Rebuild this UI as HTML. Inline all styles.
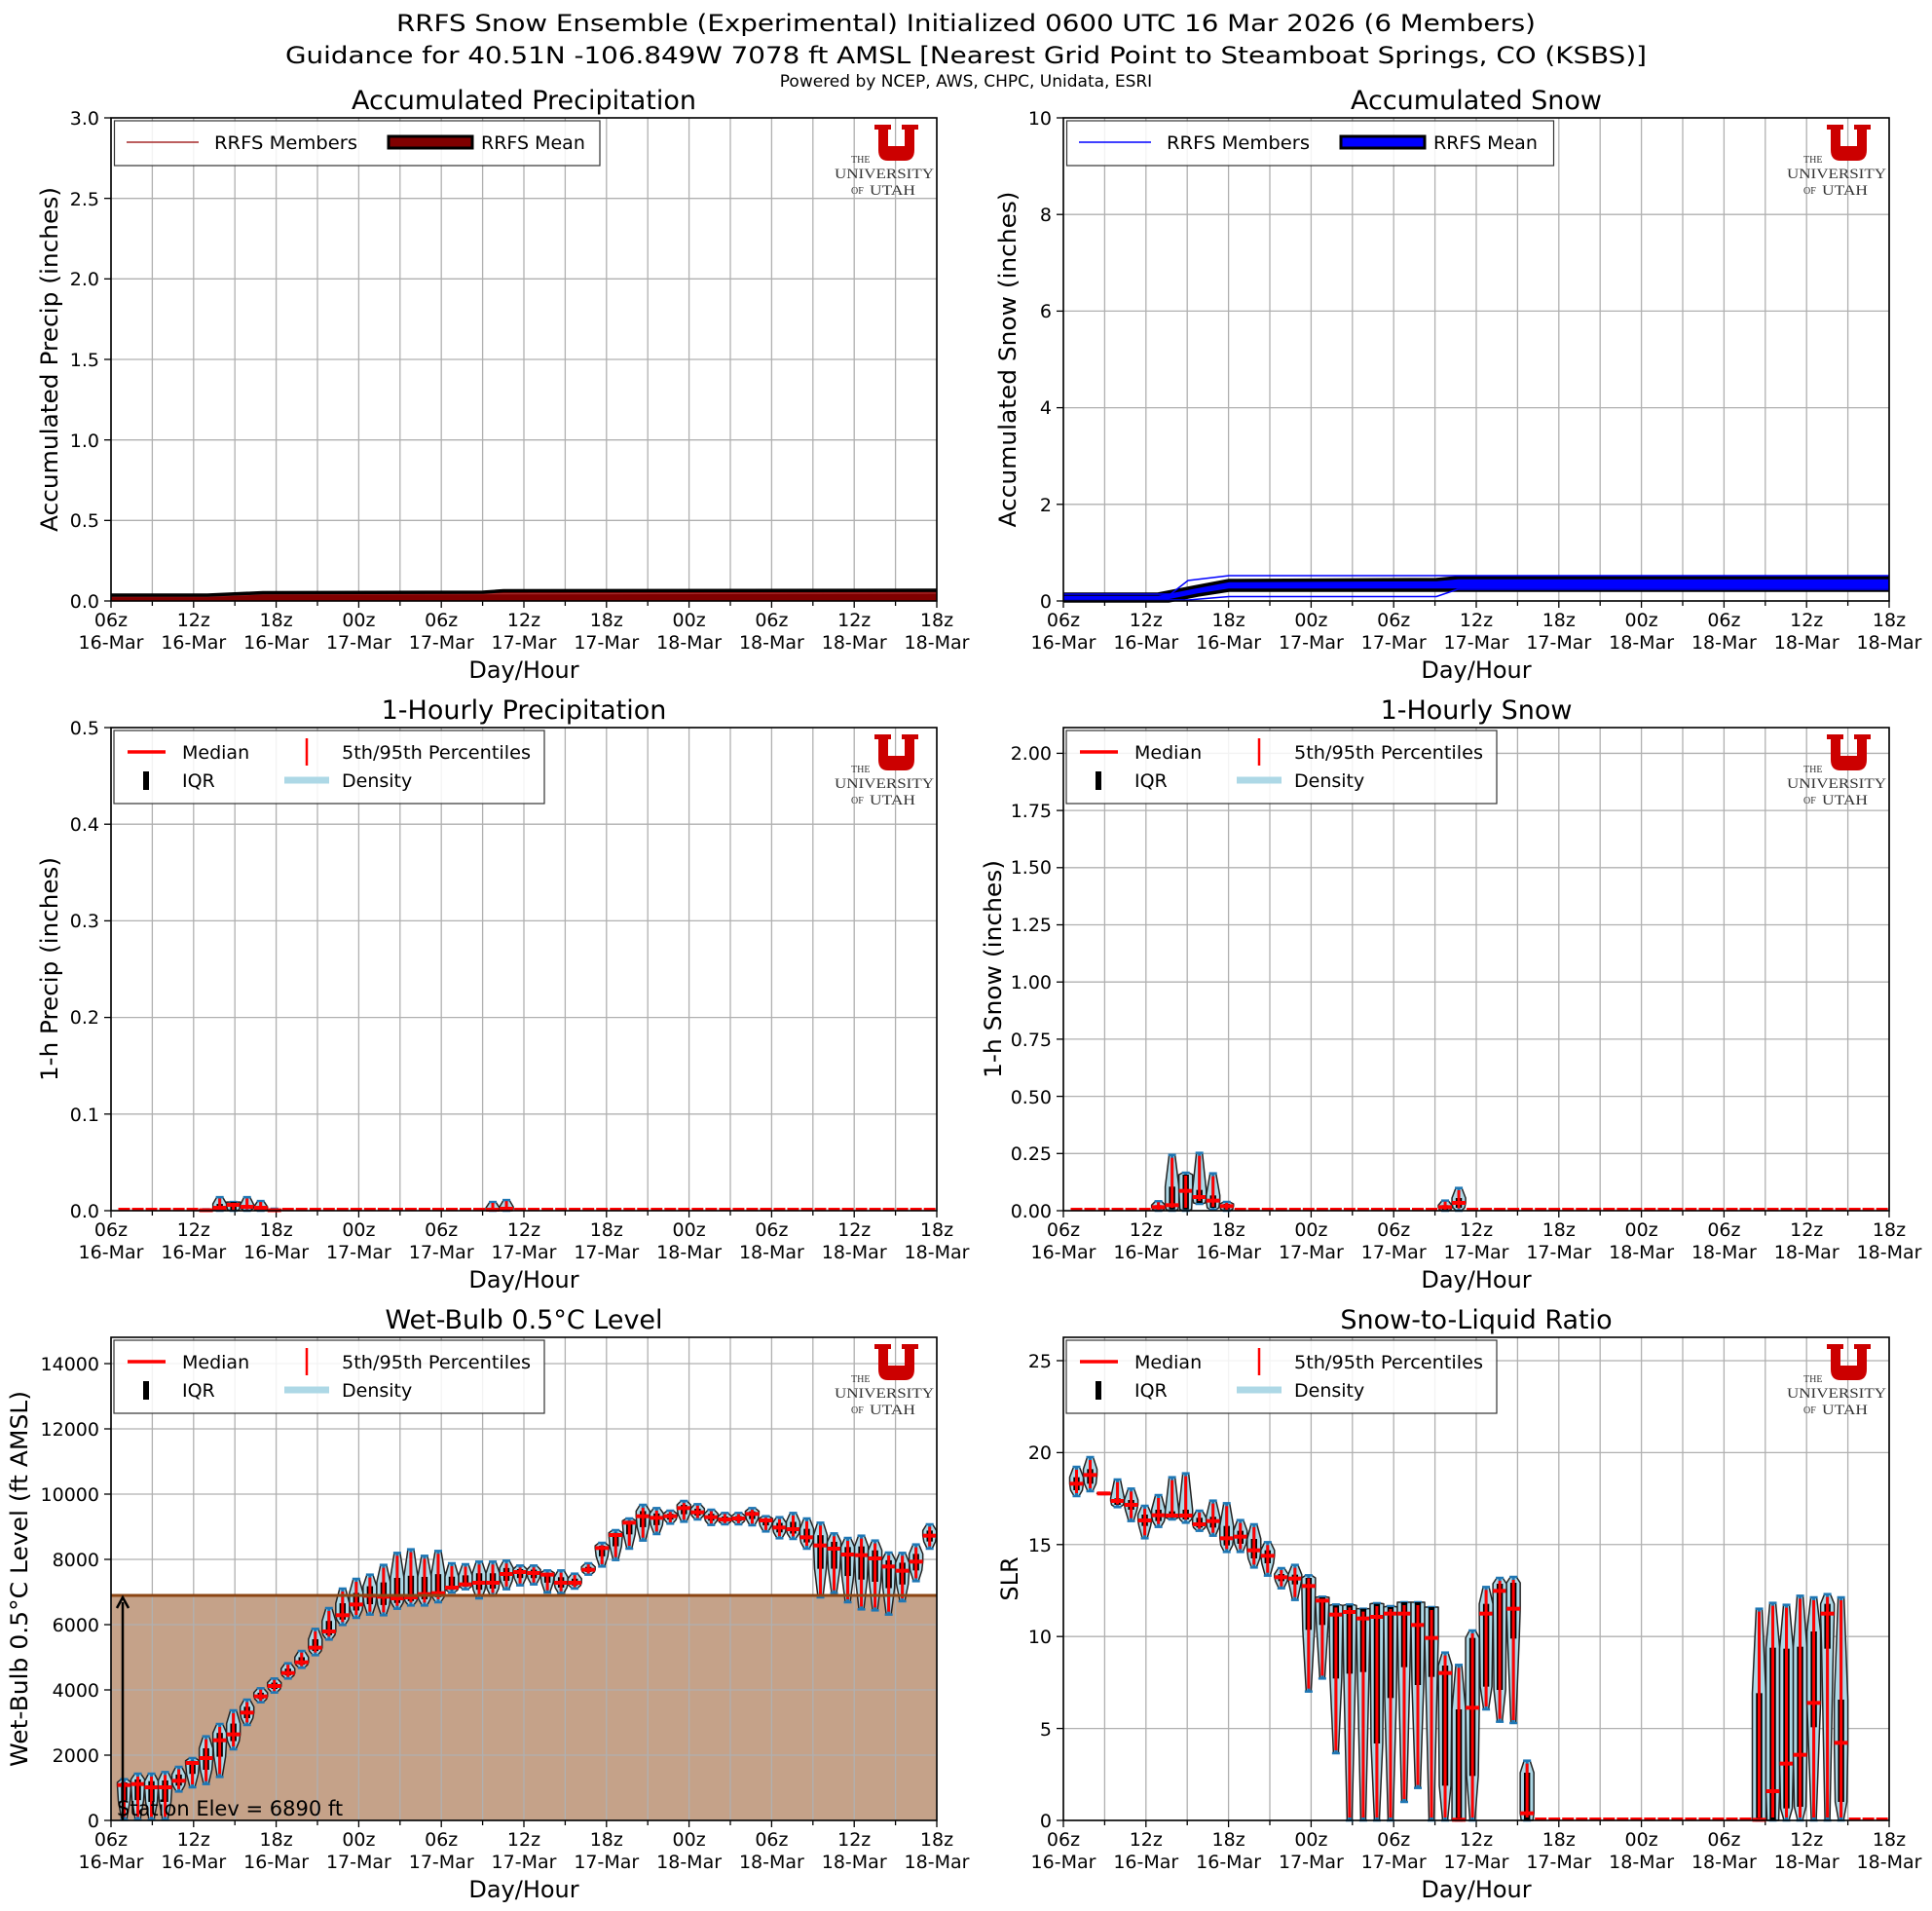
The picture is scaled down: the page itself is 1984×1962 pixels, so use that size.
<!DOCTYPE html>
<html><head><meta charset="utf-8"><style>
html,body{margin:0;padding:0;background:#fff}
svg{display:block}
text{font-family:"DejaVu Sans","Liberation Sans",sans-serif;fill:#000}
.xl text{font-size:19px;text-anchor:middle}
.yl{font-size:19px;text-anchor:end}
.ttl{font-size:24px;text-anchor:middle}
.st{font-size:27px;text-anchor:middle}
.axl{font-size:24px;text-anchor:middle}
.lg{font-size:19px}
.logo{font-family:"Liberation Serif","DejaVu Serif",serif;fill:#333}
</style></head><body>
<svg id="s" width="1984" height="1962" viewBox="0 0 1984 1962" xmlns="http://www.w3.org/2000/svg">
<rect width="1984" height="1962" fill="#fff"/>
<g id="dyn"></g>

<text class="ttl" x="992" y="32" textLength="1170" lengthAdjust="spacingAndGlyphs">RRFS Snow Ensemble (Experimental) Initialized 0600 UTC 16 Mar 2026 (6 Members)</text>
<text class="ttl" x="992" y="65" textLength="1398" lengthAdjust="spacingAndGlyphs">Guidance for 40.51N -106.849W 7078 ft AMSL [Nearest Grid Point to Steamboat Springs, CO (KSBS)]</text>
<text x="992" y="89" style="font-size:17px;text-anchor:middle">Powered by NCEP, AWS, CHPC, Unidata, ESRI</text>

<text class="st" x="538" y="112">Accumulated Precipitation</text>
<text class="st" x="1516" y="112">Accumulated Snow</text>
<text class="st" x="538" y="738">1-Hourly Precipitation</text>
<text class="st" x="1516" y="738">1-Hourly Snow</text>
<text class="st" x="538" y="1364">Wet-Bulb 0.5°C Level</text>
<text class="st" x="1516" y="1364">Snow-to-Liquid Ratio</text>

<g class="xl">
<text x="114" y="643">06z<tspan x="114" dy="23">16-Mar</tspan></text>
<text x="198.8" y="643">12z<tspan x="198.8" dy="23">16-Mar</tspan></text>
<text x="283.6" y="643">18z<tspan x="283.6" dy="23">16-Mar</tspan></text>
<text x="368.4" y="643">00z<tspan x="368.4" dy="23">17-Mar</tspan></text>
<text x="453.2" y="643">06z<tspan x="453.2" dy="23">17-Mar</tspan></text>
<text x="538" y="643">12z<tspan x="538" dy="23">17-Mar</tspan></text>
<text x="622.8" y="643">18z<tspan x="622.8" dy="23">17-Mar</tspan></text>
<text x="707.6" y="643">00z<tspan x="707.6" dy="23">18-Mar</tspan></text>
<text x="792.4" y="643">06z<tspan x="792.4" dy="23">18-Mar</tspan></text>
<text x="877.2" y="643">12z<tspan x="877.2" dy="23">18-Mar</tspan></text>
<text x="962" y="643">18z<tspan x="962" dy="23">18-Mar</tspan></text>
<text x="538" y="696" style="font-size:24px">Day/Hour</text>
</g>
<g class="xl" transform="translate(978,0)">
<text x="114" y="643">06z<tspan x="114" dy="23">16-Mar</tspan></text>
<text x="198.8" y="643">12z<tspan x="198.8" dy="23">16-Mar</tspan></text>
<text x="283.6" y="643">18z<tspan x="283.6" dy="23">16-Mar</tspan></text>
<text x="368.4" y="643">00z<tspan x="368.4" dy="23">17-Mar</tspan></text>
<text x="453.2" y="643">06z<tspan x="453.2" dy="23">17-Mar</tspan></text>
<text x="538" y="643">12z<tspan x="538" dy="23">17-Mar</tspan></text>
<text x="622.8" y="643">18z<tspan x="622.8" dy="23">17-Mar</tspan></text>
<text x="707.6" y="643">00z<tspan x="707.6" dy="23">18-Mar</tspan></text>
<text x="792.4" y="643">06z<tspan x="792.4" dy="23">18-Mar</tspan></text>
<text x="877.2" y="643">12z<tspan x="877.2" dy="23">18-Mar</tspan></text>
<text x="962" y="643">18z<tspan x="962" dy="23">18-Mar</tspan></text>
<text x="538" y="696" style="font-size:24px">Day/Hour</text>
</g>
<g class="xl" transform="translate(0,626)">
<text x="114" y="643">06z<tspan x="114" dy="23">16-Mar</tspan></text>
<text x="198.8" y="643">12z<tspan x="198.8" dy="23">16-Mar</tspan></text>
<text x="283.6" y="643">18z<tspan x="283.6" dy="23">16-Mar</tspan></text>
<text x="368.4" y="643">00z<tspan x="368.4" dy="23">17-Mar</tspan></text>
<text x="453.2" y="643">06z<tspan x="453.2" dy="23">17-Mar</tspan></text>
<text x="538" y="643">12z<tspan x="538" dy="23">17-Mar</tspan></text>
<text x="622.8" y="643">18z<tspan x="622.8" dy="23">17-Mar</tspan></text>
<text x="707.6" y="643">00z<tspan x="707.6" dy="23">18-Mar</tspan></text>
<text x="792.4" y="643">06z<tspan x="792.4" dy="23">18-Mar</tspan></text>
<text x="877.2" y="643">12z<tspan x="877.2" dy="23">18-Mar</tspan></text>
<text x="962" y="643">18z<tspan x="962" dy="23">18-Mar</tspan></text>
<text x="538" y="696" style="font-size:24px">Day/Hour</text>
</g>
<g class="xl" transform="translate(978,626)">
<text x="114" y="643">06z<tspan x="114" dy="23">16-Mar</tspan></text>
<text x="198.8" y="643">12z<tspan x="198.8" dy="23">16-Mar</tspan></text>
<text x="283.6" y="643">18z<tspan x="283.6" dy="23">16-Mar</tspan></text>
<text x="368.4" y="643">00z<tspan x="368.4" dy="23">17-Mar</tspan></text>
<text x="453.2" y="643">06z<tspan x="453.2" dy="23">17-Mar</tspan></text>
<text x="538" y="643">12z<tspan x="538" dy="23">17-Mar</tspan></text>
<text x="622.8" y="643">18z<tspan x="622.8" dy="23">17-Mar</tspan></text>
<text x="707.6" y="643">00z<tspan x="707.6" dy="23">18-Mar</tspan></text>
<text x="792.4" y="643">06z<tspan x="792.4" dy="23">18-Mar</tspan></text>
<text x="877.2" y="643">12z<tspan x="877.2" dy="23">18-Mar</tspan></text>
<text x="962" y="643">18z<tspan x="962" dy="23">18-Mar</tspan></text>
<text x="538" y="696" style="font-size:24px">Day/Hour</text>
</g>
<g class="xl" transform="translate(0,1252)">
<text x="114" y="643">06z<tspan x="114" dy="23">16-Mar</tspan></text>
<text x="198.8" y="643">12z<tspan x="198.8" dy="23">16-Mar</tspan></text>
<text x="283.6" y="643">18z<tspan x="283.6" dy="23">16-Mar</tspan></text>
<text x="368.4" y="643">00z<tspan x="368.4" dy="23">17-Mar</tspan></text>
<text x="453.2" y="643">06z<tspan x="453.2" dy="23">17-Mar</tspan></text>
<text x="538" y="643">12z<tspan x="538" dy="23">17-Mar</tspan></text>
<text x="622.8" y="643">18z<tspan x="622.8" dy="23">17-Mar</tspan></text>
<text x="707.6" y="643">00z<tspan x="707.6" dy="23">18-Mar</tspan></text>
<text x="792.4" y="643">06z<tspan x="792.4" dy="23">18-Mar</tspan></text>
<text x="877.2" y="643">12z<tspan x="877.2" dy="23">18-Mar</tspan></text>
<text x="962" y="643">18z<tspan x="962" dy="23">18-Mar</tspan></text>
<text x="538" y="696" style="font-size:24px">Day/Hour</text>
</g>
<g class="xl" transform="translate(978,1252)">
<text x="114" y="643">06z<tspan x="114" dy="23">16-Mar</tspan></text>
<text x="198.8" y="643">12z<tspan x="198.8" dy="23">16-Mar</tspan></text>
<text x="283.6" y="643">18z<tspan x="283.6" dy="23">16-Mar</tspan></text>
<text x="368.4" y="643">00z<tspan x="368.4" dy="23">17-Mar</tspan></text>
<text x="453.2" y="643">06z<tspan x="453.2" dy="23">17-Mar</tspan></text>
<text x="538" y="643">12z<tspan x="538" dy="23">17-Mar</tspan></text>
<text x="622.8" y="643">18z<tspan x="622.8" dy="23">17-Mar</tspan></text>
<text x="707.6" y="643">00z<tspan x="707.6" dy="23">18-Mar</tspan></text>
<text x="792.4" y="643">06z<tspan x="792.4" dy="23">18-Mar</tspan></text>
<text x="877.2" y="643">12z<tspan x="877.2" dy="23">18-Mar</tspan></text>
<text x="962" y="643">18z<tspan x="962" dy="23">18-Mar</tspan></text>
<text x="538" y="696" style="font-size:24px">Day/Hour</text>
</g>

<g class="yl">
<text x="102" y="624">0.0</text><text x="102" y="541">0.5</text><text x="102" y="459">1.0</text><text x="102" y="376">1.5</text><text x="102" y="293">2.0</text><text x="102" y="211">2.5</text><text x="102" y="128">3.0</text>
<text x="1080" y="624">0</text><text x="1080" y="525">2</text><text x="1080" y="425">4</text><text x="1080" y="326">6</text><text x="1080" y="227">8</text><text x="1080" y="128">10</text>
<text x="102" y="1250">0.0</text><text x="102" y="1151">0.1</text><text x="102" y="1051">0.2</text><text x="102" y="952">0.3</text><text x="102" y="853">0.4</text><text x="102" y="754">0.5</text>
<text x="1080" y="1250">0.00</text><text x="1080" y="1191">0.25</text><text x="1080" y="1133">0.50</text><text x="1080" y="1074">0.75</text><text x="1080" y="1015">1.00</text><text x="1080" y="956">1.25</text><text x="1080" y="897">1.50</text><text x="1080" y="839">1.75</text><text x="1080" y="780">2.00</text>
<text x="102" y="1876">0</text><text x="102" y="1809">2000</text><text x="102" y="1742">4000</text><text x="102" y="1675">6000</text><text x="102" y="1608">8000</text><text x="102" y="1541">10000</text><text x="102" y="1474">12000</text><text x="102" y="1407">14000</text>
<text x="1080" y="1876">0</text><text x="1080" y="1782">5</text><text x="1080" y="1687">10</text><text x="1080" y="1593">15</text><text x="1080" y="1498">20</text><text x="1080" y="1404">25</text>
</g>

<text class="axl" transform="translate(59,369) rotate(-90)" textLength="354" lengthAdjust="spacingAndGlyphs">Accumulated Precip (inches)</text>
<text class="axl" transform="translate(1043,369) rotate(-90)" textLength="345" lengthAdjust="spacingAndGlyphs">Accumulated Snow (inches)</text>
<text class="axl" transform="translate(59,995) rotate(-90)" textLength="230" lengthAdjust="spacingAndGlyphs">1-h Precip (inches)</text>
<text class="axl" transform="translate(1028,995) rotate(-90)" textLength="224" lengthAdjust="spacingAndGlyphs">1-h Snow (inches)</text>
<text class="axl" transform="translate(28,1621) rotate(-90)" textLength="386" lengthAdjust="spacingAndGlyphs">Wet-Bulb 0.5°C Level (ft AMSL)</text>
<text class="axl" transform="translate(1045,1621) rotate(-90)">SLR</text>

<text x="120" y="1864" style="font-size:21px">Station Elev = 6890 ft</text>

<g>
<rect x="117.5" y="124" width="498.5" height="46" fill="#fff" fill-opacity="0.85" stroke="#333" stroke-width="1.2"/>
<line x1="130" y1="146" x2="204" y2="146" stroke="#a52a2a" stroke-width="1.5"/>
<text class="lg" x="220" y="153" textLength="147" lengthAdjust="spacingAndGlyphs">RRFS Members</text>
<rect x="399" y="140" width="86" height="12" fill="#800000" stroke="#000" stroke-width="3"/>
<text class="lg" x="494" y="153">RRFS Mean</text>
</g>
<g transform="translate(978,0)">
<rect x="117.5" y="124" width="500" height="46" fill="#fff" fill-opacity="0.85" stroke="#333" stroke-width="1.2"/>
<line x1="130" y1="146" x2="204" y2="146" stroke="#0000ff" stroke-width="1.5"/>
<text class="lg" x="220" y="153" textLength="147" lengthAdjust="spacingAndGlyphs">RRFS Members</text>
<rect x="399" y="140" width="86" height="12" fill="#0000ff" stroke="#000" stroke-width="3"/>
<text class="lg" x="494" y="153">RRFS Mean</text>
</g>

<g transform="translate(0,-626)">
<rect x="117" y="1376" width="442" height="75" fill="#fff" fill-opacity="0.85" stroke="#333" stroke-width="1.2"/>
<line x1="131" y1="1398" x2="170" y2="1398" stroke="#ff0000" stroke-width="3.5"/>
<text class="lg" x="187" y="1405">Median</text>
<line x1="315" y1="1384" x2="315" y2="1412" stroke="#ff0000" stroke-width="2.5"/>
<text class="lg" x="351" y="1405" textLength="194" lengthAdjust="spacingAndGlyphs">5th/95th Percentiles</text>
<rect x="147" y="1418" width="6" height="19" fill="#000"/>
<text class="lg" x="187" y="1434">IQR</text>
<line x1="292" y1="1427" x2="338" y2="1427" stroke="#add8e6" stroke-width="7"/>
<text class="lg" x="351" y="1434">Density</text>
</g>
<g transform="translate(978,-626)">
<rect x="117" y="1376" width="442" height="75" fill="#fff" fill-opacity="0.85" stroke="#333" stroke-width="1.2"/>
<line x1="131" y1="1398" x2="170" y2="1398" stroke="#ff0000" stroke-width="3.5"/>
<text class="lg" x="187" y="1405">Median</text>
<line x1="315" y1="1384" x2="315" y2="1412" stroke="#ff0000" stroke-width="2.5"/>
<text class="lg" x="351" y="1405" textLength="194" lengthAdjust="spacingAndGlyphs">5th/95th Percentiles</text>
<rect x="147" y="1418" width="6" height="19" fill="#000"/>
<text class="lg" x="187" y="1434">IQR</text>
<line x1="292" y1="1427" x2="338" y2="1427" stroke="#add8e6" stroke-width="7"/>
<text class="lg" x="351" y="1434">Density</text>
</g>
<g>
<rect x="117" y="1376" width="442" height="75" fill="#fff" fill-opacity="0.85" stroke="#333" stroke-width="1.2"/>
<line x1="131" y1="1398" x2="170" y2="1398" stroke="#ff0000" stroke-width="3.5"/>
<text class="lg" x="187" y="1405">Median</text>
<line x1="315" y1="1384" x2="315" y2="1412" stroke="#ff0000" stroke-width="2.5"/>
<text class="lg" x="351" y="1405" textLength="194" lengthAdjust="spacingAndGlyphs">5th/95th Percentiles</text>
<rect x="147" y="1418" width="6" height="19" fill="#000"/>
<text class="lg" x="187" y="1434">IQR</text>
<line x1="292" y1="1427" x2="338" y2="1427" stroke="#add8e6" stroke-width="7"/>
<text class="lg" x="351" y="1434">Density</text>
</g>
<g transform="translate(978,0)">
<rect x="117" y="1376" width="442" height="75" fill="#fff" fill-opacity="0.85" stroke="#333" stroke-width="1.2"/>
<line x1="131" y1="1398" x2="170" y2="1398" stroke="#ff0000" stroke-width="3.5"/>
<text class="lg" x="187" y="1405">Median</text>
<line x1="315" y1="1384" x2="315" y2="1412" stroke="#ff0000" stroke-width="2.5"/>
<text class="lg" x="351" y="1405" textLength="194" lengthAdjust="spacingAndGlyphs">5th/95th Percentiles</text>
<rect x="147" y="1418" width="6" height="19" fill="#000"/>
<text class="lg" x="187" y="1434">IQR</text>
<line x1="292" y1="1427" x2="338" y2="1427" stroke="#add8e6" stroke-width="7"/>
<text class="lg" x="351" y="1434">Density</text>
</g>

<g>
<path d="M898,128 h17 v5 h-3 v17 h17 v-17 h-3 v-5 h17 v5 h-4 v21 q0,11 -10,11 h-17 q-10,0 -10,-11 v-21 h-4 z" fill="#cc0000"/>
<text class="logo" x="874" y="167" style="font-size:10px">THE</text>
<text class="logo" x="857" y="183" style="font-size:15px" textLength="102" lengthAdjust="spacingAndGlyphs">UNIVERSITY</text>
<text class="logo" x="874" y="199" style="font-size:10px">OF</text>
<text class="logo" x="893" y="200" style="font-size:15px" textLength="47" lengthAdjust="spacingAndGlyphs">UTAH</text>
</g>
<g transform="translate(978,0)">
<path d="M898,128 h17 v5 h-3 v17 h17 v-17 h-3 v-5 h17 v5 h-4 v21 q0,11 -10,11 h-17 q-10,0 -10,-11 v-21 h-4 z" fill="#cc0000"/>
<text class="logo" x="874" y="167" style="font-size:10px">THE</text>
<text class="logo" x="857" y="183" style="font-size:15px" textLength="102" lengthAdjust="spacingAndGlyphs">UNIVERSITY</text>
<text class="logo" x="874" y="199" style="font-size:10px">OF</text>
<text class="logo" x="893" y="200" style="font-size:15px" textLength="47" lengthAdjust="spacingAndGlyphs">UTAH</text>
</g>
<g transform="translate(0,626)">
<path d="M898,128 h17 v5 h-3 v17 h17 v-17 h-3 v-5 h17 v5 h-4 v21 q0,11 -10,11 h-17 q-10,0 -10,-11 v-21 h-4 z" fill="#cc0000"/>
<text class="logo" x="874" y="167" style="font-size:10px">THE</text>
<text class="logo" x="857" y="183" style="font-size:15px" textLength="102" lengthAdjust="spacingAndGlyphs">UNIVERSITY</text>
<text class="logo" x="874" y="199" style="font-size:10px">OF</text>
<text class="logo" x="893" y="200" style="font-size:15px" textLength="47" lengthAdjust="spacingAndGlyphs">UTAH</text>
</g>
<g transform="translate(978,626)">
<path d="M898,128 h17 v5 h-3 v17 h17 v-17 h-3 v-5 h17 v5 h-4 v21 q0,11 -10,11 h-17 q-10,0 -10,-11 v-21 h-4 z" fill="#cc0000"/>
<text class="logo" x="874" y="167" style="font-size:10px">THE</text>
<text class="logo" x="857" y="183" style="font-size:15px" textLength="102" lengthAdjust="spacingAndGlyphs">UNIVERSITY</text>
<text class="logo" x="874" y="199" style="font-size:10px">OF</text>
<text class="logo" x="893" y="200" style="font-size:15px" textLength="47" lengthAdjust="spacingAndGlyphs">UTAH</text>
</g>
<g transform="translate(0,1252)">
<path d="M898,128 h17 v5 h-3 v17 h17 v-17 h-3 v-5 h17 v5 h-4 v21 q0,11 -10,11 h-17 q-10,0 -10,-11 v-21 h-4 z" fill="#cc0000"/>
<text class="logo" x="874" y="167" style="font-size:10px">THE</text>
<text class="logo" x="857" y="183" style="font-size:15px" textLength="102" lengthAdjust="spacingAndGlyphs">UNIVERSITY</text>
<text class="logo" x="874" y="199" style="font-size:10px">OF</text>
<text class="logo" x="893" y="200" style="font-size:15px" textLength="47" lengthAdjust="spacingAndGlyphs">UTAH</text>
</g>
<g transform="translate(978,1252)">
<path d="M898,128 h17 v5 h-3 v17 h17 v-17 h-3 v-5 h17 v5 h-4 v21 q0,11 -10,11 h-17 q-10,0 -10,-11 v-21 h-4 z" fill="#cc0000"/>
<text class="logo" x="874" y="167" style="font-size:10px">THE</text>
<text class="logo" x="857" y="183" style="font-size:15px" textLength="102" lengthAdjust="spacingAndGlyphs">UNIVERSITY</text>
<text class="logo" x="874" y="199" style="font-size:10px">OF</text>
<text class="logo" x="893" y="200" style="font-size:15px" textLength="47" lengthAdjust="spacingAndGlyphs">UTAH</text>
</g>
</svg>
<script>
(function(){
var NS="http://www.w3.org/2000/svg",G=document.getElementById("dyn");
function el(n,a){var e=document.createElementNS(NS,n);for(var k in a)e.setAttribute(k,a[k]);G.appendChild(e);return e;}
function ln(x1,y1,x2,y2,c,w){el("line",{x1:x1,y1:y1,x2:x2,y2:y2,stroke:c,"stroke-width":w});}
function pl(pts,c,w){el("polyline",{points:pts.map(function(p){return p.join(",")}).join(" "),fill:"none",stroke:c,"stroke-width":w,"stroke-linejoin":"round"});}
var W=848,H=496;
var AX=[[114,121],[1092,121],[114,747],[1092,747],[114,1373],[1092,1373]];
var YT=[[0,3,0.5,3],[0,10,2,10],[0,0.5,0.1,0.5],[0,2,0.25,2.1125],[0,14000,2000,14806],[0,25,5,26.27]];
el("rect",{x:114,y:1638,width:W,height:1869-1638,fill:"#c5a289"});
AX.forEach(function(a,i){
  var l=a[0],t=a[1],b=t+H;
  for(var k=0;k<=20;k++){var x=l+k*W/20;ln(x,t,x,b,"#b0b0b0",1.3);ln(x,b,x,b+(k%2?5:7),"#000",1.3);}
  var y=YT[i];for(var n=0;n*y[2]<=y[1]+1e-9;n++){var v=n*y[2];var py=b-v/y[3]*H;ln(l,py,l+W,py,"#b0b0b0",1.3);ln(l-7,py,l,py,"#000",1.3);}
});
var pp=[[114,611],[213,611],[270,608.5],[496,608],[517,606.5],[962,606]];
el("polygon",{points:pp.concat([[962,617],[114,617]]).map(function(p){return p.join(",")}).join(" "),fill:"#800000"});
pl([[114,612.5],[213,612.5],[270,610],[962,609]],"#a52a2a",1.2);
pl(pp,"#000",3.5);
var up=[[1092,610],[1189,610],[1225,603],[1262,596],[1475,595],[1497,593],[1940,593]];
var lo=[[1092,617],[1200,617],[1230,611],[1262,606],[1940,606]];
el("polygon",{points:up.concat(lo.slice().reverse()).map(function(p){return p.join(",")}).join(" "),fill:"#0000ff"});
pl(up,"#000",3.5);pl(lo,"#000",3.5);
pl([[1092,610],[1202,610],[1220,596],[1262,591],[1940,591]],"#0000ff",1.5);
pl([[1092,616],[1220,616],[1262,612.5],[1475,612.5],[1497,605],[1940,605]],"#0000ff",1.5);
function vio(cx,hi,q3,md,q1,lw){
  var pts=[[cx-3,hi],[cx-7,q3],[cx-7,md],[cx-6,q1],[cx-2.5,lw],[cx+2.5,lw],[cx+6,q1],[cx+7,md],[cx+7,q3],[cx+3,hi]];
  el("polygon",{points:pts.map(function(p){return p.join(",")}).join(" "),fill:"#add8e6",stroke:"#222","stroke-width":1.5,"stroke-linejoin":"round"});
  ln(cx,hi,cx,lw,"#1f77b4",3);ln(cx-4,hi,cx+4,hi,"#1f77b4",2.5);ln(cx-4,lw,cx+4,lw,"#1f77b4",2.5);
  if(q1>q3)el("rect",{x:cx-3.2,y:q3,width:6.4,height:q1-q3,fill:"#000"});
  var a=hi+Math.min(3,(lw-hi)*0.1),b=lw-Math.min(3,(lw-hi)*0.1);
  if(b>a)ln(cx,a,cx,b,"#ff0000",3);
  ln(cx-7,md,cx+7,md,"#ff0000",4);
}
function zero(cx,y){ln(cx-6,y-1.5,cx+6,y-1.5,"#ff0000",3);}
function X(l,i){return l+13.5+(i-1)*14.02;}
var WB=[[1400,1418,1525],[1383,1415,1525],[1383,1425,1525],[1378,1425,1525],[1362,1405,1438],[1335,1350,1425],[1268,1335,1415],[1230,1280,1393],[1188,1262,1308],[1155,1195,1233],[1120,1145,1163],[1090,1113,1133],[1043,1073,1090],[1005,1040,1057],[937,995,1018],[873,945,970],[813,895,925],[783,862,903],[770,835,893],[740,838,895],[703,843,875],[692,840,865],[712,830,865],[697,827,855],[735,810,825],[738,800,815],[730,795,843],[730,795,835],[727,768,815],[742,762,803],[742,765,800],[757,770,825],[757,795,828],[767,795,813],[735,755,770],[672,688,745],[633,648,725],[597,610,690],[555,590,665],[565,595,645],[573,590,613],[543,565,607],[553,578,600],[570,593,617],[580,600,615],[580,597,615],[565,583,618],[590,603,637],[593,625,658],[580,630,660],[597,655,690],[610,680,840],[643,690,827],[657,708,855],[650,710,877],[665,720,880],[702,745,893],[703,758,852],[677,730,790],[615,650,690]];
WB.forEach(function(d,k){var f=function(z){return 1360+z/3;};var h=f(d[0]),m=f(d[1]),l=f(Math.min(d[2],1527));
  vio(X(114,k+1),h,m-0.45*(m-h),m,m+0.45*(l-m),l);});
ln(114,1638,962,1638,"#8b4513",3);
ln(126,1869,126,1645,"#000",2.5);
el("polyline",{points:"120,1651 126,1640 132,1651",fill:"none",stroke:"#000","stroke-width":2.5});
var S={1:[108,140,160,180,198],2:[78,115,133,160,183],3:[188,189,190,191,192],4:[147,205,213,225,232],5:[175,210,225,240,275],6:[228,255,273,290,328],7:[195,240,257,275,293],8:[140,245,258,265,270],9:[128,240,258,270,280],10:[243,265,285,295,305],11:[212,262,275,295,320],12:[220,290,328,350,370],13:[272,305,323,345,370],14:[285,330,365,390,418],15:[340,365,382,405,443],16:[420,438,448,460,482],17:[410,440,452,470,518],18:[442,450,475,610,800],19:[508,510,520,595,760],20:[532,535,563,760,990],21:[532,535,555,745,1197],22:[545,545,575,740,1197],23:[528,530,570,960,1197],24:[537,540,560,820,1197],25:[525,525,560,725,1140],26:[525,525,595,780,1097],27:[540,540,635,755,1197],28:[680,720,743,1090,1197],29:[718,855,1195,1197,1197],30:[612,635,850,1060,1197],31:[478,530,560,785,855],32:[450,468,490,795,893],33:[447,465,545,637,897],34:[1013,1050,1175,1197,1197],51:[545,805,1195,1197,1197],52:[527,665,1107,1197,1197],53:[533,668,1022,1160,1197],54:[505,662,995,1155,1197],55:[510,615,835,910,1197],56:[500,530,560,668,1197],57:[510,825,958,1140,1197]};
for(var i=1;i<=60;i++){var cx=X(1092,i);if(S[i]){var d=S[i].map(function(z){return 1470+z/3;});vio(cx,d[0],d[1],d[2],d[3],d[4]);}else zero(cx,1869);}
var SN={7:[250,262,268,275,279],8:[107,205,262,275,279],9:[162,168,218,275,279],10:[101,215,237,255,258],11:[164,232,248,270,276],12:[252,258,265,275,279],28:[248,262,268,276,279],29:[209,240,255,270,279]};
for(var i=1;i<=60;i++){var cx=X(1092,i);if(SN[i]){var d=SN[i].map(function(z){return 1150+z/3;});vio(cx,d[0],d[1],d[2],d[3],d[4]);}else zero(cx,1243);}
var PR={7:[.0015,.001,.0005,0,0],8:[.014,.007,.003,.001,0],9:[.009,.009,.006,.001,0],10:[.014,.006,.004,.002,0],11:[.01,.004,.003,.001,0],12:[.002,.001,.0005,0,0],28:[.009,.003,.001,0,0],29:[.011,.004,.002,0,0]};
for(var i=1;i<=60;i++){var cx=X(114,i);if(PR[i]){var d=PR[i].map(function(v){return 1243-v*992;});vio(cx,d[0],d[1],d[2],d[3],d[4]);}else zero(cx,1243);}
AX.forEach(function(a){el("rect",{x:a[0],y:a[1],width:W,height:H,fill:"none",stroke:"#000","stroke-width":1.6});});
})();
</script>
</body></html>
